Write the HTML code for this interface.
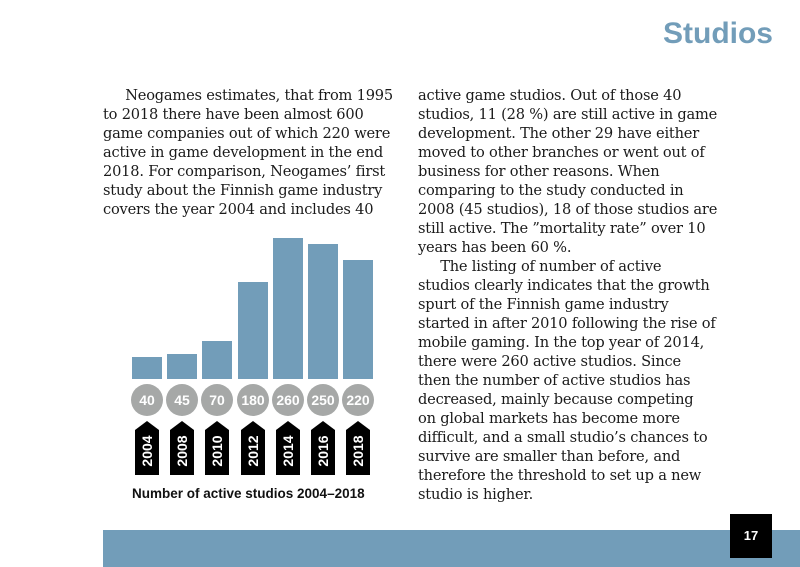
<!DOCTYPE html>
<html><head><style>
body{margin:0;width:800px;height:567px;position:relative;background:#fff;overflow:hidden;font-family:"DejaVu Serif","Liberation Serif",serif;}
.t{position:absolute;font-size:14.6px;line-height:19px;color:#1a1a1a;white-space:nowrap;letter-spacing:-0.2px}
.bar{position:absolute;background:#729db9;width:30px}
.c{position:absolute;width:32px;height:32px;border-radius:50%;background:#a6a8a7;color:#fff;font:bold 14px "Liberation Sans",sans-serif;text-align:center;line-height:32px;top:384px}
</style></head><body>
<div style="position:absolute;right:27px;top:17px;font:bold 30px 'Liberation Sans',sans-serif;color:#729db9">Studios</div>
<div class="t" style="left:103px;top:86px">&nbsp;&nbsp;&nbsp;&nbsp;&nbsp;Neogames estimates, that from 1995<br>to 2018 there have been almost 600<br>game companies out of which 220 were<br>active in game development in the end<br>2018. For comparison, Neogames’ first<br>study about the Finnish game industry<br>covers the year 2004 and includes 40</div>
<div class="t" style="left:418px;top:86px">active game studios. Out of those 40<br>studios, 11 (28 %) are still active in game<br>development. The other 29 have either<br>moved to other branches or went out of<br>business for other reasons. When<br>comparing to the study conducted in<br>2008 (45 studios), 18 of those studios are<br>still active. The ”mortality rate” over 10<br>years has been 60 %.<br>&nbsp;&nbsp;&nbsp;&nbsp;&nbsp;The listing of number of active<br>studios clearly indicates that the growth<br>spurt of the Finnish game industry<br>started in after 2010 following the rise of<br>mobile gaming. In the top year of 2014,<br>there were 260 active studios. Since<br>then the number of active studios has<br>decreased, mainly because competing<br>on global markets has become more<br>difficult, and a small studio’s chances to<br>survive are smaller than before, and<br>therefore the threshold to set up a new<br>studio is higher.</div>
<div class="bar" style="left:132px;top:357px;height:22px"></div>
<div class="bar" style="left:167px;top:354px;height:25px"></div>
<div class="bar" style="left:202px;top:341px;height:38px"></div>
<div class="bar" style="left:238px;top:282px;height:97px"></div>
<div class="bar" style="left:273px;top:238px;height:141px"></div>
<div class="bar" style="left:308px;top:244px;height:135px"></div>
<div class="bar" style="left:343px;top:260px;height:119px"></div>
<div class="c" style="left:131px">40</div>
<div class="c" style="left:166px">45</div>
<div class="c" style="left:201px">70</div>
<div class="c" style="left:237px">180</div>
<div class="c" style="left:272px">260</div>
<div class="c" style="left:307px">250</div>
<div class="c" style="left:342px">220</div>
<svg style="position:absolute;left:0;top:0" width="800" height="567">
<g font-family="Liberation Sans,sans-serif" font-weight="bold" font-size="14" fill="#fff">
<g transform="translate(147,0)"><path d="M-12,430 L0,421 L12,430 L12,475 L-12,475Z" fill="#000"/><text transform="translate(5,451) rotate(-90)" text-anchor="middle">2004</text></g>
<g transform="translate(182,0)"><path d="M-12,430 L0,421 L12,430 L12,475 L-12,475Z" fill="#000"/><text transform="translate(5,451) rotate(-90)" text-anchor="middle">2008</text></g>
<g transform="translate(217,0)"><path d="M-12,430 L0,421 L12,430 L12,475 L-12,475Z" fill="#000"/><text transform="translate(5,451) rotate(-90)" text-anchor="middle">2010</text></g>
<g transform="translate(253,0)"><path d="M-12,430 L0,421 L12,430 L12,475 L-12,475Z" fill="#000"/><text transform="translate(5,451) rotate(-90)" text-anchor="middle">2012</text></g>
<g transform="translate(288,0)"><path d="M-12,430 L0,421 L12,430 L12,475 L-12,475Z" fill="#000"/><text transform="translate(5,451) rotate(-90)" text-anchor="middle">2014</text></g>
<g transform="translate(323,0)"><path d="M-12,430 L0,421 L12,430 L12,475 L-12,475Z" fill="#000"/><text transform="translate(5,451) rotate(-90)" text-anchor="middle">2016</text></g>
<g transform="translate(358,0)"><path d="M-12,430 L0,421 L12,430 L12,475 L-12,475Z" fill="#000"/><text transform="translate(5,451) rotate(-90)" text-anchor="middle">2018</text></g>
</g></svg>
<div style="position:absolute;left:132px;top:486px;font:bold 13.5px 'Liberation Sans',sans-serif;color:#111">Number of active studios 2004–2018</div>
<div style="position:absolute;left:103px;top:530px;width:697px;height:37px;background:#729db9"></div>
<div style="position:absolute;left:730px;top:514px;width:42px;height:44px;background:#000;color:#fff;font:bold 13px 'Liberation Sans',sans-serif;text-align:center;line-height:44px">17</div>
</body></html>
